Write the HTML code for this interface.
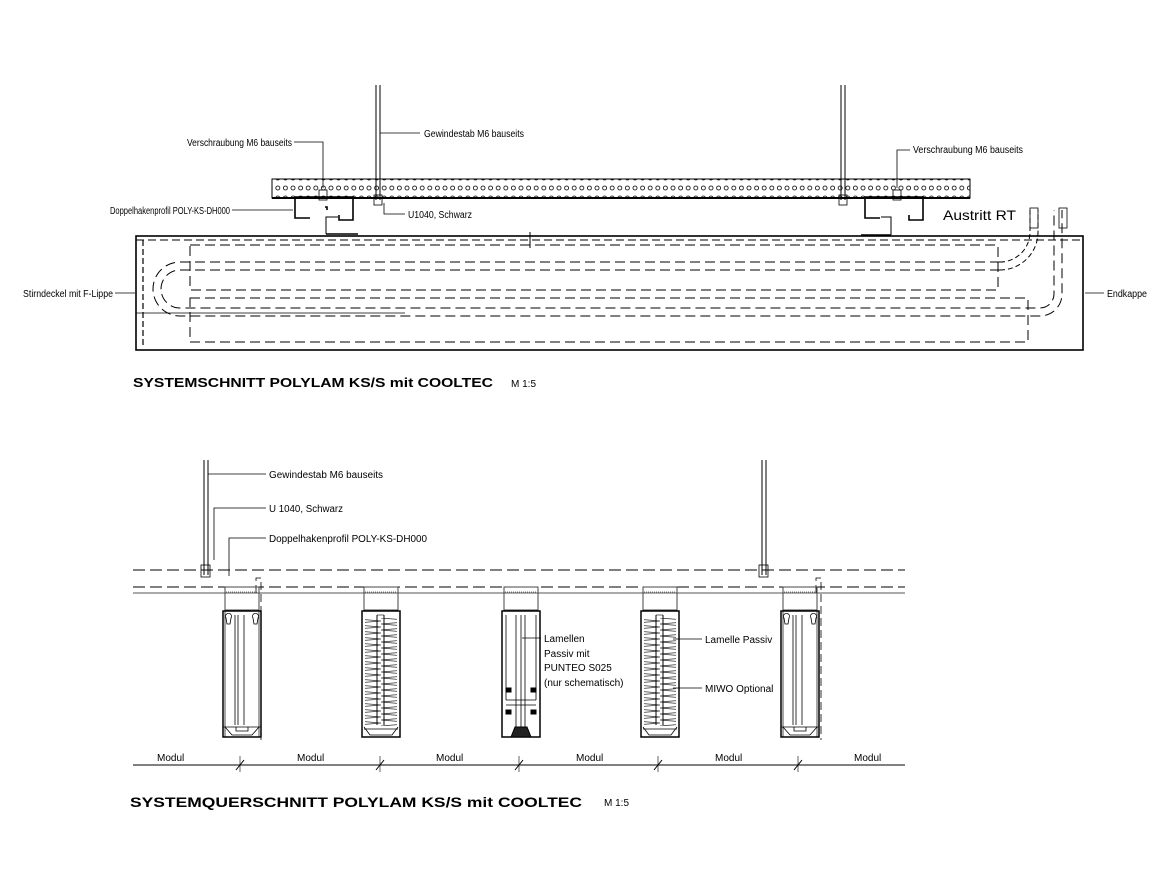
<!DOCTYPE html>
<html><head><meta charset="utf-8"><style>
html,body{margin:0;padding:0;background:#fff;}
svg{display:block;}
text{font-family:"Liberation Sans",sans-serif;fill:#000;}
.l{font-size:10px;}
</style></head><body>
<svg width="1170" height="878" viewBox="0 0 1170 878" xmlns="http://www.w3.org/2000/svg">
<defs>
<pattern id="holes" x="274" y="183" width="7.6" height="10" patternUnits="userSpaceOnUse">
<circle cx="3.8" cy="5" r="2" fill="none" stroke="#000" stroke-width="0.8"/>
</pattern>
<pattern id="zig" x="0" y="0" width="36" height="6" patternUnits="userSpaceOnUse">
<polyline points="0,0 36,3 0,6" fill="none" stroke="#333" stroke-width="0.8"/>
</pattern>
<g id="modA" fill="none" stroke="#000" stroke-width="1">
<rect x="-17" y="587" width="34" height="23" stroke="#444"/>
<line x1="-16" y1="592" x2="16" y2="592" stroke="#777" stroke-dasharray="1,1"/>
<rect x="-19" y="611" width="38" height="126" stroke-width="1.5"/>
<line x1="-17" y1="611" x2="-17" y2="737" stroke-width="0.7"/>
<line x1="17" y1="611" x2="17" y2="737" stroke-width="0.7"/>
<line x1="-7" y1="615" x2="-7" y2="725" stroke-width="0.8"/>
<line x1="-4" y1="615" x2="-4" y2="725" stroke-width="0.8"/>
<line x1="2" y1="615" x2="2" y2="725" stroke-width="0.8"/>
<path d="M-16,618 a3,3 0 1 1 5,0 l-1,6 h-3z M11,618 a3,3 0 1 1 5,0 l-1,6 h-3z" stroke-width="0.8"/>
<path d="M-19,727 h38 M-17,727 l7,8 h20 l7,-8 M-6,727 v4 h12 v-4" stroke-width="0.8"/>
</g>
<g id="modB" fill="none" stroke="#000" stroke-width="1">
<rect x="-17" y="587" width="34" height="23" stroke="#444"/>
<line x1="-16" y1="592" x2="16" y2="592" stroke="#777" stroke-dasharray="1,1"/>
<rect x="-19" y="611" width="38" height="126" stroke-width="1.5"/>
<rect x="-16" y="618" width="32" height="108" fill="url(#zig)" stroke="none"/>
<line x1="-4" y1="615" x2="-4" y2="725" stroke-width="1"/>
<line x1="3" y1="615" x2="3" y2="725" stroke-width="1"/>
<line x1="-4" y1="615" x2="3" y2="615" stroke-width="0.6"/>
<path d="M-17,727 l6,8 h22 l6,-8 M-17,729 h34" stroke-width="0.8"/>
</g>
<g id="modC" fill="none" stroke="#000" stroke-width="1">
<rect x="-17" y="587" width="34" height="23" stroke="#444"/>
<line x1="-16" y1="592" x2="16" y2="592" stroke="#777" stroke-dasharray="1,1"/>
<rect x="-19" y="611" width="38" height="126" stroke-width="1.5"/>
<line x1="-15" y1="615" x2="-15" y2="700" stroke-width="0.8"/>
<line x1="15" y1="615" x2="15" y2="700" stroke-width="0.8"/>
<line x1="-5" y1="615" x2="-5" y2="730" stroke-width="0.8"/>
<line x1="0" y1="615" x2="0" y2="730" stroke-width="0.8"/>
<line x1="4" y1="615" x2="4" y2="730" stroke-width="0.8"/>
<path d="M-15,700 h30 M-15,705 h30" stroke-width="0.7"/>
<rect x="-15" y="688" width="5" height="4" fill="#000"/><rect x="10" y="688" width="5" height="4" fill="#000"/>
<rect x="-15" y="710" width="5" height="4" fill="#000"/><rect x="10" y="710" width="5" height="4" fill="#000"/>
<path d="M-10,737 l4,-10 h12 l4,10z" fill="#222"/>
</g>
</defs>

<!-- TOP SECTION -->
<g fill="none" stroke="#000">
<!-- rods -->
<line x1="376" y1="85" x2="376" y2="200" stroke-width="1"/>
<line x1="380" y1="85" x2="380" y2="200" stroke-width="1"/>
<line x1="841" y1="85" x2="841" y2="200" stroke-width="1"/>
<line x1="845" y1="85" x2="845" y2="200" stroke-width="1"/>
<rect x="374" y="195" width="8" height="10" stroke-width="0.8"/>
<rect x="839" y="195" width="8" height="10" stroke-width="0.8"/>
<!-- channel -->
<rect x="272" y="179" width="698" height="19" stroke-width="1" fill="url(#holes)"/>
<line x1="272" y1="198" x2="970" y2="198" stroke-width="2"/>
<!-- doppelhaken left -->
<path d="M310,218 h-15 v-21 h58 v23 h-14 v-5 M327,210 v-3 h-1 m0,0 h-1" stroke-width="1.6"/>
<path d="M326,220 v-10 h-2 v-8" stroke-width="0"/>
<path d="M326,234 v-17 h12" stroke-width="1"/>
<line x1="326" y1="234" x2="358" y2="234" stroke-width="1.5"/>
<rect x="319" y="190" width="8" height="10" stroke-width="0.8"/>
<!-- doppelhaken right -->
<path d="M880,218 h-15 v-21 h58 v23 h-14 v-5" stroke-width="1.6"/>
<path d="M891,235 v-18 h-10" stroke-width="1"/>
<line x1="861" y1="235" x2="891" y2="235" stroke-width="1.5"/>
<rect x="893" y="190" width="8" height="10" stroke-width="0.8"/>
<!-- main box -->
<rect x="136" y="236" width="947" height="114" stroke-width="1.6"/>
<line x1="136" y1="240" x2="1083" y2="240" stroke-dasharray="8,4" stroke-width="1"/>
<line x1="143" y1="240" x2="143" y2="346" stroke-dasharray="6,3" stroke-width="1.2"/>
<rect x="190" y="245" width="808" height="45" stroke-dasharray="10,5" stroke-width="1"/>
<rect x="190" y="298" width="838" height="44" stroke-dasharray="10,5" stroke-width="1"/>
<!-- tubes -->
<path d="M1000,262 H180 a27,27 0 0 0 0,54 H1040 a22,22 0 0 0 22,-22 V210" stroke-dasharray="10,5" stroke-width="1"/>
<path d="M1000,270 H180 a19,19 0 0 0 0,38 H1040 a14,14 0 0 0 14,-14 V210" stroke-dasharray="10,5" stroke-width="1"/>
<path d="M1000,262 a30,30 0 0 0 30,-30 V210 M1000,270 a38,38 0 0 0 38,-38 V210" stroke-dasharray="5,3" stroke-width="1"/>
<rect x="1030" y="208" width="8" height="20" stroke-width="0.8"/>
<rect x="1059" y="208" width="8" height="20" stroke-width="0.8"/>
<line x1="136" y1="313" x2="405" y2="313" stroke-width="0.8"/>
<line x1="530" y1="232" x2="530" y2="248" stroke-width="1"/>
<!-- leaders -->
<path d="M294,142 H323 V188" stroke-width="0.8"/>
<path d="M420,133 H380" stroke-width="0.8"/>
<path d="M232,210 H293" stroke-width="0.8"/>
<path d="M405,214 H384 V203" stroke-width="0.8"/>
<path d="M910,150 H897 V188" stroke-width="0.8"/>
<path d="M115,293 H135" stroke-width="0.8"/>
<path d="M1104,293 H1085" stroke-width="0.8"/>
</g>
<text class="l" x="187" y="146" textLength="105" lengthAdjust="spacingAndGlyphs">Verschraubung M6 bauseits</text>
<text class="l" x="424" y="137" textLength="100" lengthAdjust="spacingAndGlyphs">Gewindestab M6 bauseits</text>
<text class="l" x="110" y="214" textLength="120" lengthAdjust="spacingAndGlyphs">Doppelhakenprofil POLY-KS-DH000</text>
<text class="l" x="408" y="218" textLength="64" lengthAdjust="spacingAndGlyphs">U1040, Schwarz</text>
<text class="l" x="913" y="153" textLength="110" lengthAdjust="spacingAndGlyphs">Verschraubung M6 bauseits</text>
<text x="943" y="220" font-size="14" textLength="73" lengthAdjust="spacingAndGlyphs">Austritt RT</text>
<text class="l" x="23" y="297" textLength="90" lengthAdjust="spacingAndGlyphs">Stirndeckel mit F-Lippe</text>
<text class="l" x="1107" y="297" textLength="40" lengthAdjust="spacingAndGlyphs">Endkappe</text>
<text x="133" y="387" font-size="13" font-weight="bold" textLength="360" lengthAdjust="spacingAndGlyphs">SYSTEMSCHNITT  POLYLAM  KS/S mit COOLTEC</text>
<text x="511" y="387" font-size="10">M 1:5</text>

<!-- BOTTOM SECTION -->
<g fill="none" stroke="#000">
<line x1="204" y1="460" x2="204" y2="575"/>
<line x1="208" y1="460" x2="208" y2="575"/>
<line x1="762" y1="460" x2="762" y2="575"/>
<line x1="766" y1="460" x2="766" y2="575"/>
<rect x="201" y="565" width="9" height="12" stroke-width="0.8"/>
<rect x="759" y="565" width="9" height="12" stroke-width="0.8"/>
<line x1="133" y1="570" x2="905" y2="570" stroke-dasharray="12,5" stroke-width="1"/>
<line x1="133" y1="587" x2="905" y2="587" stroke-dasharray="12,5" stroke-width="1"/>
<line x1="133" y1="593" x2="905" y2="593" stroke-width="1" stroke="#555"/>
<path d="M256,593 V578 h5 V740 M816,593 V578 h5 V740" stroke-dasharray="8,4" stroke-width="0.8"/>
<!-- leaders -->
<path d="M266,474 H208" stroke-width="0.8"/>
<path d="M266,508 H214 V560" stroke-width="0.8"/>
<path d="M266,538 H229 V576" stroke-width="0.8"/>
<path d="M541,638 H522" stroke-width="0.8"/>
<path d="M702,639 H673" stroke-width="0.8"/>
<path d="M702,688 H673" stroke-width="0.8"/>
<!-- dimension line -->
<line x1="133" y1="765" x2="905" y2="765" stroke-width="1"/>
<path d="M236,770 l8,-10 M376,770 l8,-10 M515,770 l8,-10 M654,770 l8,-10 M794,770 l8,-10" stroke-width="1"/>
<path d="M240,756 v16 M380,756 v16 M519,756 v16 M658,756 v16 M798,756 v16" stroke-width="0.6"/>
</g>
<use href="#modA" x="242"/>
<use href="#modB" x="381"/>
<use href="#modC" x="521"/>
<use href="#modB" x="660"/>
<use href="#modA" x="800"/>
<text class="l" x="269" y="478" textLength="114" lengthAdjust="spacingAndGlyphs">Gewindestab M6 bauseits</text>
<text class="l" x="269" y="512" textLength="74" lengthAdjust="spacingAndGlyphs">U 1040, Schwarz</text>
<text class="l" x="269" y="542" textLength="158" lengthAdjust="spacingAndGlyphs">Doppelhakenprofil POLY-KS-DH000</text>
<text class="l" x="544" y="642">Lamellen</text>
<text class="l" x="544" y="657">Passiv mit</text>
<text class="l" x="544" y="671">PUNTEO S025</text>
<text class="l" x="544" y="686">(nur schematisch)</text>
<text class="l" x="705" y="643">Lamelle Passiv</text>
<text class="l" x="705" y="692">MIWO Optional</text>
<text class="l" x="157" y="761">Modul</text>
<text class="l" x="297" y="761">Modul</text>
<text class="l" x="436" y="761">Modul</text>
<text class="l" x="576" y="761">Modul</text>
<text class="l" x="715" y="761">Modul</text>
<text class="l" x="854" y="761">Modul</text>
<text x="130" y="807" font-size="14" font-weight="bold" textLength="452" lengthAdjust="spacingAndGlyphs">SYSTEMQUERSCHNITT  POLYLAM  KS/S mit COOLTEC</text>
<text x="604" y="806" font-size="10">M 1:5</text>
</svg>
</body></html>
